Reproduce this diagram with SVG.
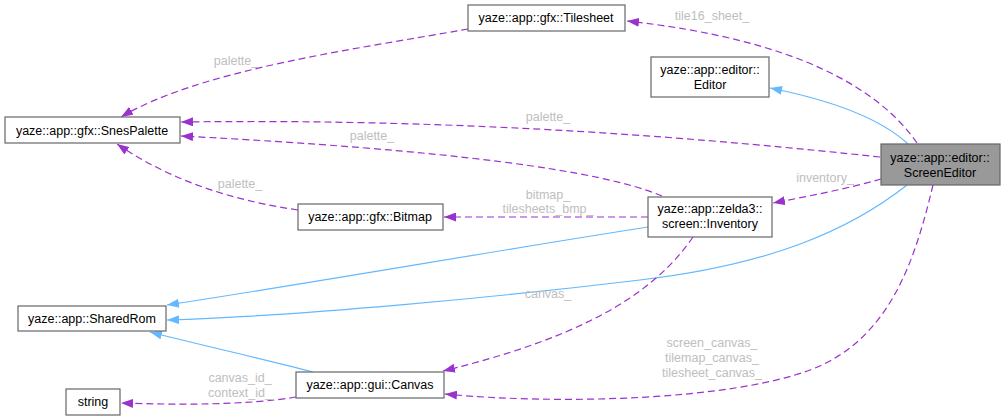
<svg xmlns="http://www.w3.org/2000/svg" width="1005" height="420" viewBox="0 0 1005 420">
<style>
.n rect{fill:#fff;stroke:#666;stroke-width:1.2}
.n text{font-family:"Liberation Sans",Arial,sans-serif;font-size:12.5px;fill:#000;text-anchor:middle}
.d{fill:none;stroke:#9a32cd;stroke-width:1.2;stroke-dasharray:7,4}
.b{fill:none;stroke:#63b8ff;stroke-width:1.2}
.l{font-family:"Liberation Sans",Arial,sans-serif;font-size:12.5px;fill:#bebebe;text-anchor:middle}
</style>
<defs>
<marker id="ap" markerUnits="userSpaceOnUse" markerWidth="12" markerHeight="9" refX="12" refY="4.5" orient="auto"><path d="M0,0 L12,4.5 L0,9 z" fill="#9a32cd"/></marker>
<marker id="ab" markerUnits="userSpaceOnUse" markerWidth="12" markerHeight="9" refX="12" refY="4.5" orient="auto"><path d="M0,0 L12,4.5 L0,9 z" fill="#63b8ff"/></marker>
</defs>
<g id="connectors">
<path class="d" d="M917,143 C880,90 800,40 627,21" marker-end="url(#ap)"/>
<text class="l" x="712" y="20">tile16_sheet_</text>
<path class="b" d="M908,144 C880,118 830,100 770,88" marker-end="url(#ab)"/>
<path class="d" d="M880,157 C720,140 480,118 181,122" marker-end="url(#ap)"/>
<text class="l" x="548" y="121">palette_</text>
<path class="d" d="M662,196 C600,170 450,150 181,136" marker-end="url(#ap)"/>
<text class="l" x="372" y="140">palette_</text>
<path class="d" d="M468,29 C350,50 200,70 121,117" marker-end="url(#ap)"/>
<text class="l" x="236" y="65">palette_</text>
<path class="d" d="M298,210 C230,200 170,180 117,144" marker-end="url(#ap)"/>
<text class="l" x="240" y="188">palette_</text>
<path class="d" d="M881,179 C850,188 810,196 773,203" marker-end="url(#ap)"/>
<text class="l" x="825" y="182">inventory_</text>
<path class="d" d="M648,217 L444,217" marker-end="url(#ap)"/>
<text class="l" x="548" y="199">bitmap_</text>
<text class="l" x="548" y="213">tilesheets_bmp_</text>
<path class="b" d="M648,227 C500,250 300,285 167,305" marker-end="url(#ab)"/>
<path class="b" d="M907,185 C850,230 770,265 640,280 C500,297 300,316 167,320" marker-end="url(#ab)"/>
<path class="b" d="M313,372 C260,358 200,345 150,332" marker-end="url(#ab)"/>
<path class="d" d="M693,237 C650,300 570,340 443,371" marker-end="url(#ap)"/>
<text class="l" x="548" y="298">canvas_</text>
<path class="d" d="M933,185 C915,260 890,340 810,370 C730,400 560,405 445,394" marker-end="url(#ap)"/>
<text class="l" x="712" y="347">screen_canvas_</text>
<text class="l" x="712" y="362">tilemap_canvas_</text>
<text class="l" x="712" y="377">tilesheet_canvas_</text>
<path class="d" d="M296,397 C250,405 180,405 121,403" marker-end="url(#ap)"/>
<text class="l" x="240" y="382">canvas_id_</text>
<text class="l" x="240" y="397">context_id_</text>
</g>
<g id="node-ScreenEditor" class="n"><rect x="881" y="144" width="119" height="41" style="fill:#999"/><text x="940" y="162">yaze::app::editor::</text><text x="940" y="177">ScreenEditor</text></g>
<g id="node-Editor" class="n"><rect x="651" y="57" width="118" height="40"/><text x="710" y="74">yaze::app::editor::</text><text x="710" y="89">Editor</text></g>
<g id="node-Tilesheet" class="n"><rect x="468" y="5" width="157" height="26"/><text x="546" y="22">yaze::app::gfx::Tilesheet</text></g>
<g id="node-SnesPalette" class="n"><rect x="5" y="117" width="175" height="26"/><text x="92" y="135">yaze::app::gfx::SnesPalette</text></g>
<g id="node-Bitmap" class="n"><rect x="298" y="204" width="145" height="26"/><text x="370" y="221">yaze::app::gfx::Bitmap</text></g>
<g id="node-Inventory" class="n"><rect x="648" y="197" width="124" height="40"/><text x="710" y="213">yaze::app::zelda3::</text><text x="710" y="228">screen::Inventory</text></g>
<g id="node-SharedRom" class="n"><rect x="18" y="306" width="148" height="25"/><text x="92" y="323">yaze::app::SharedRom</text></g>
<g id="node-string" class="n"><rect x="66" y="389" width="54" height="26"/><text x="93" y="406">string</text></g>
<g id="node-Canvas" class="n"><rect x="296" y="372" width="148" height="26"/><text x="370" y="389">yaze::app::gui::Canvas</text></g>
</svg>
